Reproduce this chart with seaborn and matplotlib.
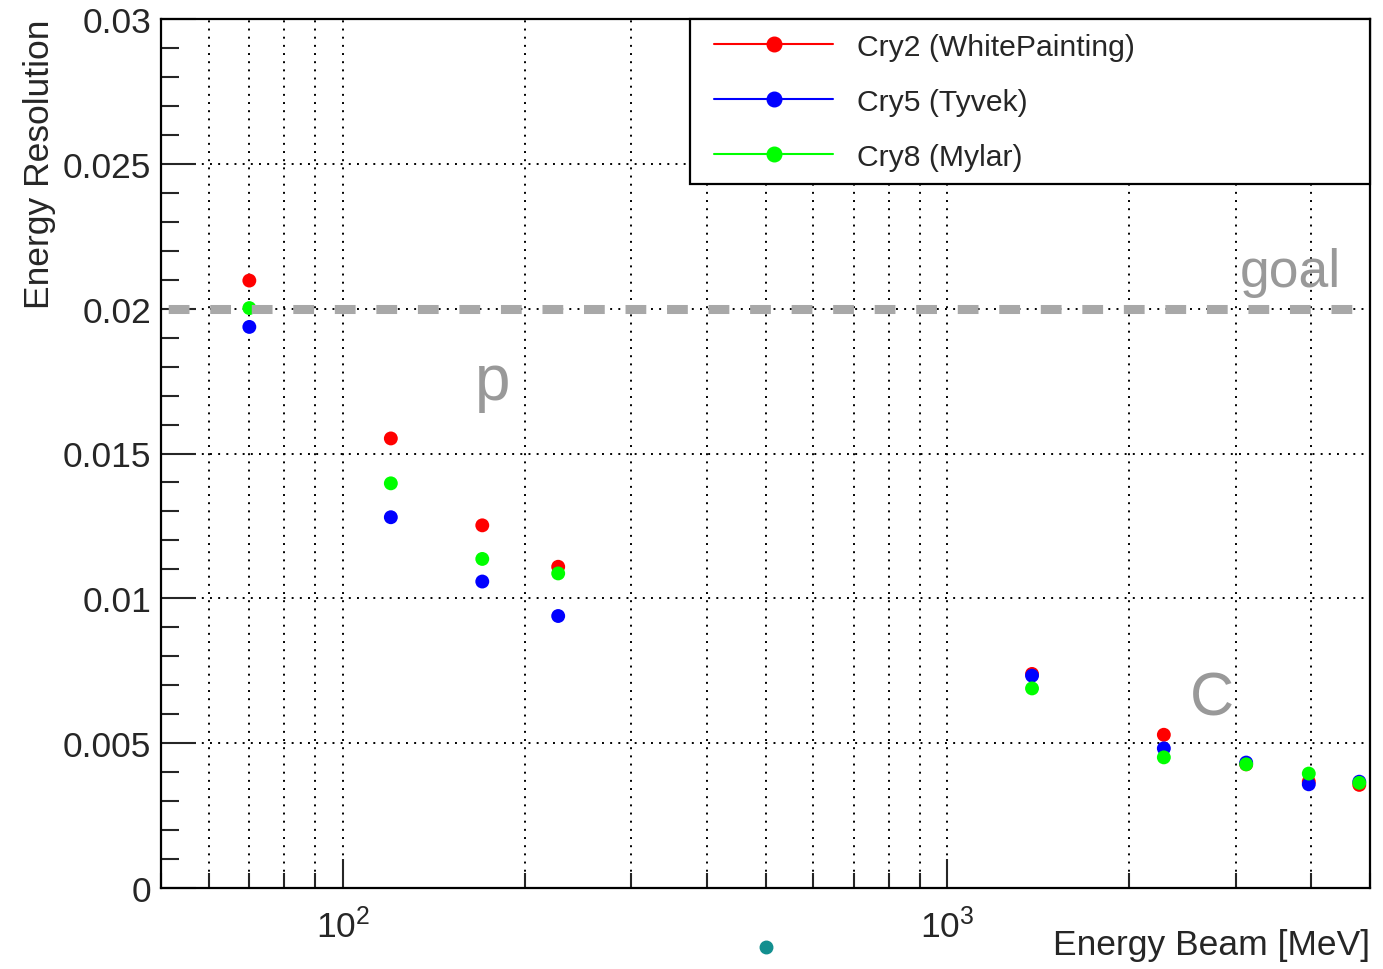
import numpy as np
import pandas as pd
import matplotlib
matplotlib.use("Agg")
import matplotlib.pyplot as plt
from matplotlib.lines import Line2D
from matplotlib.legend_handler import HandlerLine2D
import matplotlib.ticker as mticker
import seaborn as sns

# ---- data ----
energy = [70, 120, 170, 227, 1380, 2280, 3120, 3960, 4800]
res_cry2 = [0.02097, 0.01552, 0.01252, 0.01109, 0.00739, 0.00529, 0.00427, 0.00367, 0.00356]
res_cry5 = [0.01937, 0.01280, 0.01058, 0.00939, 0.00733, 0.00482, 0.00433, 0.00358, 0.00367]
res_cry8 = [0.02002, 0.01397, 0.01136, 0.01086, 0.00689, 0.00451, 0.00427, 0.00395, 0.00363]
series_names = ["Cry2 (WhitePainting)", "Cry5 (Tyvek)", "Cry8 (Mylar)"]
series_colors = ["#ff0000", "#0000ff", "#00ff00"]
goal_value = 0.02
y_ticks = [0, 0.005, 0.01, 0.015, 0.02, 0.025, 0.03]
y_tick_labels = ["0", "0.005", "0.01", "0.015", "0.02", "0.025", "0.03"]
x_major = [100, 1000]
x_major_labels = ["$10^{2}$", "$10^{3}$"]

df = pd.DataFrame({
    "Energy": energy * 3,
    "Resolution": res_cry2 + res_cry5 + res_cry8,
    "Crystal": [series_names[0]] * len(energy) + [series_names[1]] * len(energy) + [series_names[2]] * len(energy),
})

sns.set_style("ticks")
plt.rcParams["font.family"] = ["Liberation Sans", "DejaVu Sans"]
plt.rcParams["mathtext.fontset"] = "custom"
plt.rcParams["mathtext.rm"] = "Liberation Sans"
plt.rcParams["mathtext.it"] = "Liberation Sans"

fig = plt.figure(figsize=(13.83, 9.70), dpi=100)
ax = fig.add_axes([161 / 1383, 1 - 889 / 970, (1370 - 161) / 1383, (889 - 20) / 970])

ax.set_xscale("log")
ax.set_xlim(50, 5000)
ax.set_ylim(0, 0.03)

palette = dict(zip(series_names, series_colors))
sns.scatterplot(data=df, x="Energy", y="Resolution", hue="Crystal", palette=palette,
                s=100, edgecolor="none", linewidth=0, legend=False, ax=ax, zorder=3)

# goal line
ax.axhline(goal_value, color="#a8a8a8", lw=6.5, linestyle=(3.8, (2.3, 2.3)), zorder=4)

# grid
ax.grid(True, which="both", axis="x", color="black", linestyle=(0, (1, 3.2)), lw=1.4)
ax.grid(True, which="major", axis="y", color="black", linestyle=(0, (1, 3.2)), lw=1.4)

# ticks
ax.set_yticks(y_ticks)
ax.set_yticklabels(y_tick_labels)
ax.yaxis.set_minor_locator(mticker.MultipleLocator(0.001))
ax.set_xticks(x_major)
ax.set_xticklabels(x_major_labels)
ax.xaxis.set_minor_locator(mticker.LogLocator(base=10, subs=np.arange(2, 10)))
ax.xaxis.set_minor_formatter(mticker.NullFormatter())
ax.tick_params(axis="y", which="major", direction="in", length=25, width=1.5, labelsize=25.5, pad=7, right=False)
ax.tick_params(axis="y", which="minor", direction="in", length=13, width=1.5, right=False)
ax.tick_params(axis="x", which="major", direction="in", length=21, width=1.5, labelsize=25.5, pad=14, top=False)
ax.tick_params(axis="x", which="minor", direction="in", length=11, width=1.5, top=False)
for sp in ax.spines.values():
    sp.set_linewidth(1.6)
    sp.set_color("black")

ax.set_xlabel("Energy Beam [MeV]", fontsize=25.5, ha="right", va="center")
ax.xaxis.set_label_coords(1.0, (889 - 946) / 869)
ax.set_ylabel("Energy Resolution", fontsize=25.5, ha="right", va="center")
ax.yaxis.set_label_coords((40 - 161) / 1209, 1.0)

# annotations
ax.text(0.2597, 0.5627, "p", transform=ax.transAxes, fontsize=46, color="#999999", va="baseline", ha="left")
ax.text(0.8925, 0.6928, "goal", transform=ax.transAxes, fontsize=38.5, color="#999999", va="baseline", ha="left")
ax.text(0.8511, 0.2002, "C", transform=ax.transAxes, fontsize=44, color="#999999", va="baseline", ha="left")

# legend
handles = [Line2D([], [], color=c, marker="o", markersize=10.5, lw=1.5) for c in series_colors]
leg = ax.legend(handles, series_names, loc="upper left",
                bbox_to_anchor=((690 - 161) / 1209, 0.5, (1370 - 690) / 1209, 0.5),
                mode="expand", borderaxespad=0, fontsize=21.7, handlelength=4.3,
                handletextpad=0.8, labelspacing=0.9, borderpad=0.45, fancybox=False,
                framealpha=1, edgecolor="black",
                handler_map={Line2D: HandlerLine2D(xpad=0.35)})
leg.get_frame().set_linewidth(1.6)
leg.set_zorder(10)

# stray marker below the axis
fig.add_artist(Line2D([766 / 1383], [1 - 948 / 970], marker="o", markersize=9,
                      color="#128f8f", transform=fig.transFigure, lw=0))

fig.savefig("out.png", dpi=100)
